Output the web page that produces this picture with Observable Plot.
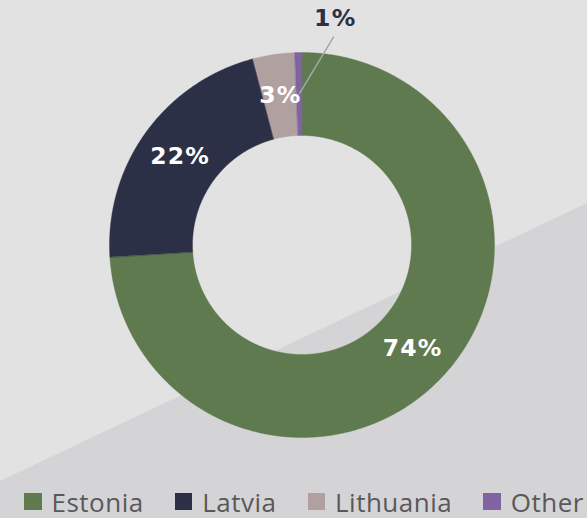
<!DOCTYPE html>
<html>
<head>
<meta charset="utf-8">
<script src="https://cdn.jsdelivr.net/npm/d3@7"></script>
<script src="https://cdn.jsdelivr.net/npm/@observablehq/plot@0.6"></script>
<style>
  html, body { margin: 0; padding: 0; }
  #wrap { position: relative; width: 587px; height: 518px; overflow: hidden; background: #e2e2e2; }
  #shade { position: absolute; left: 0; top: 0; width: 587px; height: 518px; background: #d4d4d6;
           clip-path: polygon(0px 481px, 587px 203px, 587px 518px, 0px 518px); }
  #chart { position: absolute; left: 0; top: 0; }
  #chart svg { display: block; overflow: visible; }
  #chart g[aria-label="text"] text { letter-spacing: 1.2px; }
  #legend { position: absolute; left: 24px; top: 480px; height: 38px; display: flex; align-items: center;
            font-family: "Open Sans", sans-serif; font-size: 26px; color: #595959; }
  #legend .item { display: flex; align-items: center; margin-right: 31px; }
  #legend .sw { width: 17.5px; height: 17.5px; margin-right: 10px; margin-top: 5px; }
  #legend .lab { line-height: 38px; margin-top: 5px; letter-spacing: 0.5px; }
</style>
</head>
<body>
<div id="wrap">
  <div id="shade"></div>
  <div id="chart"></div>
  <div id="legend"></div>
</div>
<script>
// ---- data ----
const categories = ["Estonia", "Latvia", "Lithuania", "Other"];
const shares = [74.0, 21.9, 3.5, 0.6];
const labels = ["74%", "22%", "3%", "1%"];
const colors = ["#5f7a4e", "#2b3046", "#b0a09f", "#8064a2"];

// ---- layout ----
const W = 587, H = 480;
const cx = 301.5, cy = 244.5, R = 192.5;
const innerRatio = 109.5 / 192.5;
const labelRatio = (1 + innerRatio) / 2;

const pie = d3.pie().sort(null).value((d) => d.value)(
  categories.map((c, i) => ({cat: c, value: shares[i], label: labels[i]}))
);

// polygon outline of each ring segment in unit coordinates (y up)
const ring = [];
pie.forEach((p) => {
  const a0 = p.startAngle, a1 = p.endAngle;
  const n = Math.max(2, Math.ceil((a1 - a0) / 0.005));
  for (let k = 0; k <= n; k++) {
    const a = a0 + (a1 - a0) * k / n;
    ring.push({cat: p.data.cat, x: Math.sin(a), y: Math.cos(a)});
  }
  for (let k = n; k >= 0; k--) {
    const a = a0 + (a1 - a0) * k / n;
    ring.push({cat: p.data.cat, x: innerRatio * Math.sin(a), y: innerRatio * Math.cos(a)});
  }
});

const centroids = pie.map((p) => {
  const a = (p.startAngle + p.endAngle) / 2;
  return {cat: p.data.cat, label: p.data.label, value: p.data.value,
          x: labelRatio * Math.sin(a), y: labelRatio * Math.cos(a)};
});
const inside = centroids.filter((d) => d.value >= 2);
const outside = centroids.filter((d) => d.value < 2);
// outside label offsets (pixels)
const offLabel = [35.5, -75.2], offLine = [34.6, -57.5];
const outsideLinks = outside.map((d) => ({
  x1: d.x, y1: d.y, x2: d.x + offLine[0] / R, y2: d.y - offLine[1] / R
}));

const chart = Plot.plot({
  width: W, height: H, margin: 0,
  style: {background: "transparent"},
  x: {domain: [-1, 1], range: [cx - R, cx + R], axis: null},
  y: {domain: [-1, 1], range: [cy + R, cy - R], axis: null},
  color: {domain: categories, range: colors},
  marks: [
    Plot.line(ring, {x: "x", y: "y", z: "cat", fill: "cat", stroke: "cat", strokeWidth: 0.4, curve: "linear-closed"}),
    Plot.link(outsideLinks, {x1: "x1", y1: "y1", x2: "x2", y2: "y2", stroke: "#a6a6a6", strokeWidth: 1.5}),
    Plot.text(inside, {x: "x", y: "y", text: "label", fill: "white", fontSize: 23.5, fontWeight: "bold",
                       fontFamily: "DejaVu Sans", dx: 0.6}),
    Plot.text(outside, {x: "x", y: "y", text: "label", fill: "#2b3046", fontSize: 23.5, fontWeight: "bold",
                        fontFamily: "DejaVu Sans", dx: offLabel[0] + 0.6, dy: offLabel[1]})
  ]
});
document.getElementById("chart").appendChild(chart);

// legend
const leg = document.getElementById("legend");
categories.forEach((c, i) => {
  const item = document.createElement("div");
  item.className = "item";
  const sw = document.createElement("div");
  sw.className = "sw";
  sw.style.background = colors[i];
  const lab = document.createElement("span");
  lab.className = "lab";
  lab.textContent = c;
  item.appendChild(sw);
  item.appendChild(lab);
  leg.appendChild(item);
});
</script>
</body>
</html>
